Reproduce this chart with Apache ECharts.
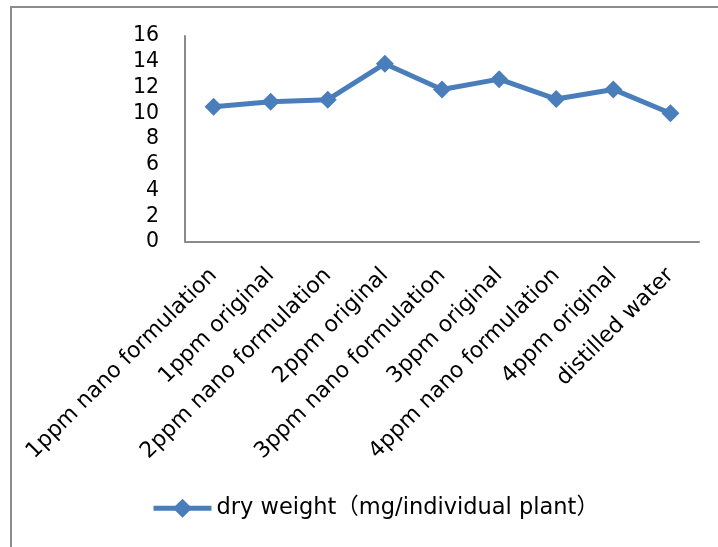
<!DOCTYPE html>
<html>
<head>
<meta charset="utf-8">
<script src="https://cdn.jsdelivr.net/npm/echarts@6/dist/echarts.min.js"></script>
<style>html,body{margin:0;padding:0;background:#fff}#c{width:718px;height:547px}</style>
</head>
<body>
<div id="c"></div>
<script>
const categories = ["1ppm nano formulation","1ppm original","2ppm nano formulation","2ppm original","3ppm nano formulation","3ppm original","4ppm nano formulation","4ppm original","distilled water"];
const dryWeight = [10.5, 10.9, 11.05, 13.85, 11.85, 12.65, 11.1, 11.85, 10.0];
const seriesName = "dry weight\uFF08mg/individual plant\uFF09";
const yTicks = [0, 2, 4, 6, 8, 10, 12, 14, 16];

const FONT = '"DejaVu Sans", "Noto Sans CJK SC", sans-serif';
const BLUE = '#4a7ebb';
const chart = echarts.init(document.getElementById('c'), null, {renderer: 'canvas'});
chart.setOption({
  backgroundColor: '#fff',
  animation: false,
  graphic: [{
    type: 'rect', z: -1,
    shape: {x: 11, y: 7, width: 900, height: 900},
    style: {fill: 'none', stroke: '#8c8c8c', lineWidth: 2}
  }],
  grid: {left: 185, right: 19, top: 36, bottom: 305, containLabel: false},
  legend: {
    left: 146, top: 492,
    itemWidth: 58, itemHeight: 24, itemGap: 4,
    textStyle: {fontFamily: FONT, fontSize: 22.5, color: '#000'},
    data: [{
      name: seriesName,
      itemStyle: {color: BLUE},
      lineStyle: {color: BLUE, width: 5}
    }]
  },
  xAxis: {
    type: 'category', data: categories, boundaryGap: true,
    axisLine: {lineStyle: {color: '#8a8a8a', width: 2}},
    axisTick: {show: false},
    axisLabel: {rotate: 45, interval: 0, margin: 30, fontFamily: FONT, fontSize: 22, color: '#000'}
  },
  yAxis: {
    type: 'value', min: yTicks[0], max: yTicks[yTicks.length - 1], interval: 2,
    axisLine: {show: true, lineStyle: {color: '#8a8a8a', width: 2}},
    axisTick: {show: false},
    splitLine: {show: false},
    axisLabel: {margin: 26, fontFamily: FONT, fontSize: 20.5, color: '#000'}
  },
  series: [{
    name: seriesName, type: 'line', data: dryWeight,
    symbol: 'diamond', symbolSize: 18,
    lineStyle: {color: BLUE, width: 5},
    itemStyle: {color: BLUE}
  }]
});
</script>
</body>
</html>
